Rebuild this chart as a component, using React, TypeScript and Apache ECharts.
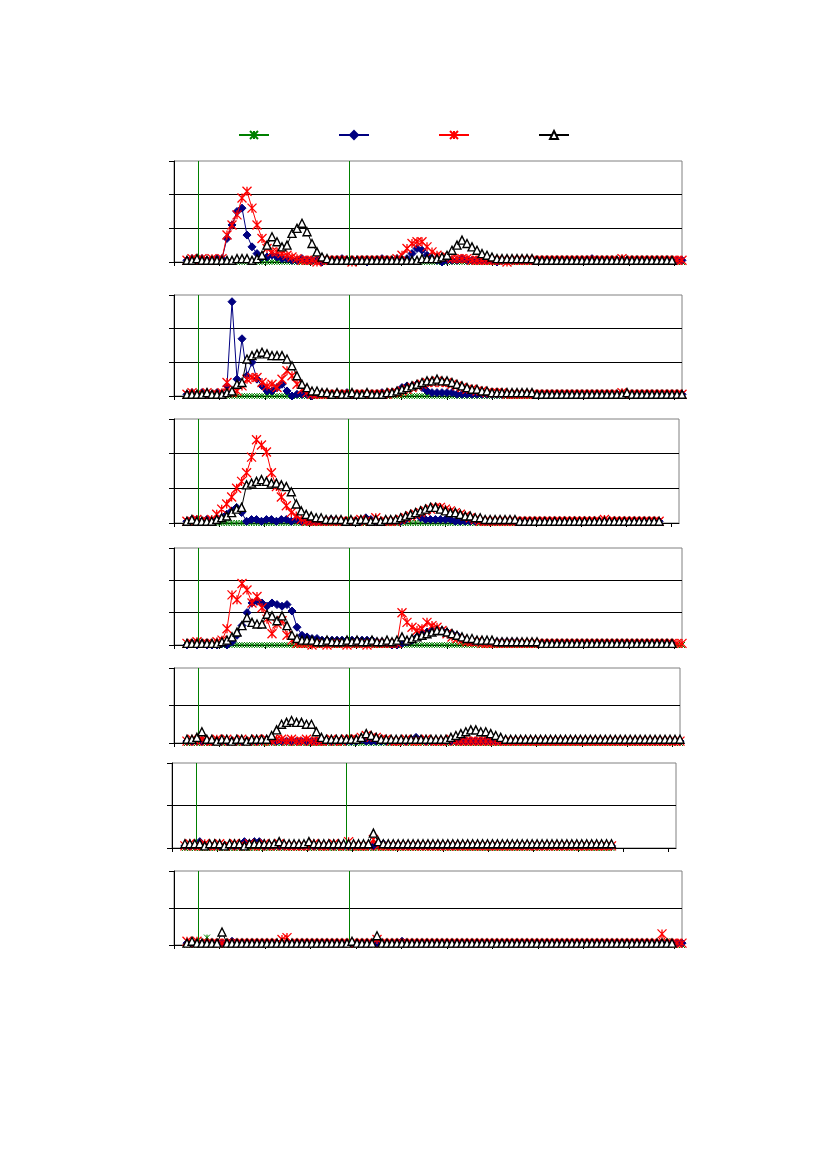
import React, { useEffect, useRef } from "react";
import * as echarts from "echarts";

// ---------- axis configuration ----------
const X_MIN = -2.6;
const X_MAX = 99;
const X_TICK_STEP = 9.1;
const X_TICK_COUNT = 12;
const EVENT_X = [2.3, 32.5];
const Y_MAX = [60, 60, 60, 60, 40, 40, 40];
const Y_STEP = 20;
const SERIES_NAMES = ["G", "N", "R", "B"];

// ---------- panel 1 ----------
const p1Green = [
  0,0,0,0,0,0,0,0,0,0, 0,0,0,0,0,0,0,0,0,0, 0,0,0,0,0,0,0,0,0,0, 0,0,0,0,0,0,0,0,0,0,
  0,0,0,0,0,0,0,0,0,0, 0,0,0,0,0,0,0,0,0,0, 0,0,0,0,0,0,0,0,0,0, 0,0,0,0,0,0,0,0,0,0,
  0,0,0,0,0,0,0,0,0,0, 0,0,0,0,0,0,0,0,0,0,
];
const p1Navy = [
  1,2,1,2,1,1,2,2,14,22, 30,32,16,9,5,3,3,4,3,2, 2,1,1,2,1,1,1,0,1,1, 1,2,1,1,1,1,0,1,1,2,
  1,1,2,1,2,5,8,7,4,2, 1,0,1,1,1,2,1,1,1,1, 1,1,0,1,1,1,1,1,1,1, 1,1,1,1,1,1,1,1,1,1,
  1,2,1,1,1,1,1,1,1,1, 1,1,1,1,1,1,1,1,1,1,
];
const p1Red = [
  1,2,1,2,1,2,1,2,16,22, 28,38,42,32,22,14,8,6,6,5, 4,3,2,1,1,1,0,1,1,1, 1,1,1,0,1,1,1,1,1,1,
  1,1,2,4,8,11,12,12,9,6, 4,3,3,2,2,2,2,1,1,1, 1,1,1,1,0,1,1,1,1,1, 1,1,1,1,1,1,1,1,1,1,
  1,1,1,1,1,1,1,2,1,1, 1,1,1,1,1,1,1,1,1,1,
];
const p1Black = [
  1,1,2,1,1,1,1,1,1,1, 2,2,2,1,2,4,10,15,12,9, 10,17,20,23,18,11,6,3,2,1, 1,1,1,1,1,1,1,1,1,1,
  1,1,1,1,1,1,1,2,2,2, 2,3,4,7,10,13,11,9,7,5, 4,3,2,2,2,2,2,2,2,2, 1,1,1,1,1,1,1,1,1,1,
  1,1,1,1,1,1,1,1,1,1, 1,1,1,1,1,1,1,1,
];

// ---------- panel 2 ----------
const p2Green = [
  0,0,0,0,0,0,0,0,0,0, 0,0,0,0,0,0,0,0,0,0, 0,0,0,0,0,0,0,0,0,0, 0,0,0,0,0,0,0,0,0,0,
  0,0,0,0,0,0,0,0,0,0, 0,0,0,0,0,0,0,0,0,0, 0,0,0,0,0,0,0,0,0,0, 0,0,0,0,0,0,0,0,0,0,
  0,0,0,0,0,0,0,0,0,0, 0,0,0,0,0,0,0,0,0,0,
];
const p2Navy = [
  1,2,1,2,1,1,2,1,6,56, 10,34,12,20,10,6,3,3,5,7, 3,0,1,1,1,0,1,1,1,1, 1,1,2,1,1,1,1,1,1,2,
  1,2,3,5,6,6,7,5,3,2, 2,2,2,2,1,1,1,1,1,1, 1,1,1,1,1,1,1,1,1,1, 1,1,1,1,1,1,1,1,1,1,
  1,1,1,1,1,1,1,1,1,1, 1,1,1,1,1,1,1,1,1,1,
];
const p2Red = [
  1,2,1,1,2,1,1,2,8,2, 3,6,10,11,11,8,6,7,5,10, 15,12,7,4,2,1,1,1,1,1, 1,1,1,1,1,1,1,1,1,1,
  1,2,2,3,4,5,6,7,8,8, 9,8,8,7,6,5,4,4,3,3, 2,2,2,2,1,1,1,1,1,1, 1,1,1,1,1,1,1,1,1,1,
  1,1,1,1,1,1,1,2,1,1, 1,1,1,1,1,1,1,1,1,1,
];
const p2Black = [
  1,1,1,1,2,1,1,1,2,3, 7,8,22,24,25,26,25,24,24,24, 22,18,12,7,5,3,3,2,2,1, 2,1,1,2,1,1,2,1,1,1,
  2,2,3,4,5,6,7,8,9,9, 10,9,9,8,7,6,5,4,4,3, 3,2,2,2,2,2,2,2,2,2, 1,1,1,1,1,1,1,1,1,1,
  1,1,1,1,1,1,1,1,2,1, 1,1,1,1,1,1,1,1,1,1,
];

// ---------- panel 3 ----------
const p3Green = [
  0,0,0,0,0,0,0,0,0,0, 0,0,0,0,0,0,0,0,0,0, 0,0,0,0,0,0,0,0,0,0, 0,0,0,0,0,0,0,0,0,0,
  0,0,0,0,0,0,0,0,0,0, 0,0,0,0,0,0,0,0,0,0, 0,0,0,0,0,0,0,0,0,0, 0,0,0,0,0,0,0,0,0,0,
  0,0,0,0,0,0,0,0,0,0, 0,0,0,0,0,0,
];
const p3Navy = [
  1,2,2,1,2,1,2,3,5,7, 9,6,1,2,2,1,2,2,1,2, 2,1,2,1,1,1,1,1,1,2, 1,1,1,1,1,1,3,2,1,1,
  1,1,1,1,2,4,5,3,2,2, 2,2,2,2,1,1,1,1,1,1, 1,1,1,1,1,1,1,1,1,1, 1,1,1,1,1,1,1,1,1,1,
  1,1,1,1,1,1,1,1,1,1, 1,1,1,1,1,1,
];
const p3Red = [
  1,1,2,1,1,2,5,8,11,15, 20,24,29,38,48,45,41,29,21,15, 10,6,4,2,1,1,1,1,1,1, 1,1,1,1,1,2,1,1,3,1,
  1,1,1,2,3,4,5,6,7,8, 9,9,8,7,6,5,4,3,2,1, 1,1,1,1,1,1,1,1,1,1, 1,1,1,1,1,1,1,1,1,1,
  1,1,1,1,2,1,1,1,1,1, 1,1,1,1,1,1,
];
const p3Black = [
  1,2,1,1,1,1,2,3,4,6, 8,9,22,23,24,25,24,23,23,22, 21,18,11,7,5,4,3,3,2,2, 2,2,1,2,1,2,2,1,2,1,
  2,2,2,3,4,5,6,7,8,9, 9,8,7,6,6,5,4,4,3,3, 2,2,2,2,2,2,2,1,1,1, 1,1,1,1,1,1,1,1,1,1,
  1,1,1,1,1,1,1,1,1,1, 1,1,1,1,1,1,
];

// ---------- panel 4 ----------
const p4Green = [
  0,0,0,0,0,0,0,0,0,0, 0,0,0,0,0,0,0,0,0,0, 0,0,0,0,0,0,0,0,0,0, 0,0,0,0,0,0,0,0,0,0,
  0,0,0,0,0,0,0,0,0,0, 0,0,0,0,0,0,0,0,0,0, 0,0,0,0,0,0,0,0,0,0, 0,0,0,0,0,0,0,0,0,0,
  0,0,0,0,0,0,0,0,0,0, 0,0,0,0,0,0,0,0,0,0,
];
const p4Navy = [
  0,1,0,1,0,0,0,1,0,2, 6,12,20,26,27,26,24,26,25,24, 25,21,11,6,5,4,4,3,3,3, 3,3,3,3,3,3,3,3,2,2,
  1,0,0,1,2,3,5,7,8,9, 9,9,8,7,6,4,3,2,2,2, 2,2,2,2,2,2,2,1,1,1, 1,1,1,1,1,1,1,1,1,1,
  1,1,1,1,1,1,1,1,1,1, 1,1,1,1,1,1,1,1,
];
const p4Red = [
  1,1,2,1,1,1,2,3,10,31, 28,38,34,26,30,23,16,7,13,15, 6,3,1,1,1,0,1,1,0,1, 1,1,0,1,1,1,0,1,1,1,
  1,1,1,20,14,11,9,10,14,12, 11,9,7,5,4,3,2,2,2,1, 1,1,1,1,1,1,1,1,1,1, 1,1,1,1,1,1,1,1,1,1,
  1,1,1,1,1,1,1,1,1,1, 1,1,1,1,1,1,1,1,1,1,
];
const p4Black = [
  1,1,1,1,1,1,1,2,3,5, 8,12,17,14,13,13,19,18,15,18, 12,6,4,3,3,3,2,2,3,2, 2,2,3,2,3,2,2,3,2,2,
  3,2,3,5,3,4,5,6,7,8, 9,9,8,7,6,5,4,4,3,3, 3,3,2,2,2,2,2,2,2,2, 2,1,1,1,1,1,1,1,1,1,
  1,1,1,1,1,1,1,1,1,1, 1,1,1,1,1,1,1,1,
];

// ---------- panel 5 ----------
const p5Green = [
  0,0,0,0,0,0,0,0,0,0, 0,0,0,0,0,0,0,0,0,0, 0,0,0,0,0,0,0,0,0,0, 0,0,0,0,0,0,0,0,0,0,
  0,0,0,0,0,0,0,0,0,0, 0,0,0,0,0,0,0,0,0,0, 0,0,0,0,0,0,0,0,0,0, 0,0,0,0,0,0,0,0,0,0,
  0,0,0,0,0,0,0,0,0,0, 0,0,0,0,0,0,0,0,0,0,
];
const p5Navy = [
  1,1,1,1,1,1,1,1,1,1, 1,1,1,1,1,1,2,1,1,1, 1,1,1,1,1,1,1,1,1,1, 1,1,1,1,1,2,1,1,1,1,
  1,1,1,1,1,2,3,2,1,1, 1,1,1,1,1,1,1,1,1,1, 1,1,1,1,1,1,1,1,1,1, 1,1,1,1,1,1,1,1,1,1,
  1,1,1,1,1,1,1,1,1,1, 1,1,1,1,1,1,1,1,1,1,
];
const p5Red = [
  1,2,1,2,1,1,2,1,2,1, 1,2,1,1,2,1,2,1,2,2, 1,2,1,1,2,1,1,1,1,2, 1,1,2,2,2,3,4,3,3,2,
  2,1,1,1,2,1,1,1,2,1, 1,1,1,2,1,1,1,1,1,1, 1,1,1,1,1,1,1,1,1,1, 1,1,1,1,1,1,1,1,1,1,
  1,1,1,1,1,1,1,1,1,1, 1,1,1,1,1,1,1,1,1,1,
];
const p5Black = [
  2,2,3,6,2,2,1,2,2,1, 2,2,1,2,2,2,2,4,7,10, 11,12,11,11,10,10,6,3,2,2, 2,2,2,2,2,3,5,4,3,2,
  2,2,2,2,2,2,2,2,2,2, 2,2,2,3,4,5,6,7,7,6, 6,5,4,3,2,2,2,2,2,2, 2,2,2,2,2,2,2,2,2,2,
  2,2,2,2,2,2,2,2,2,2, 2,2,2,2,2,2,2,2,2,2,
];

// ---------- panel 6 ----------
const p6Green = [
  0,0,0,0,0,0,0,0,0,0, 0,0,0,0,0,0,0,0,0,0, 0,0,0,0,0,0,0,0,0,0, 0,0,0,0,0,0,0,0,0,0,
  0,0,0,0,0,0,0,0,0,0, 0,0,0,0,0,0,0,0,0,0, 0,0,0,0,0,0,0,0,0,0, 0,0,0,0,0,0,0,0,0,0,
  0,0,0,0,0,0,0,
];
const p6Navy = [
  1,1,1,3,1,1,1,1,1,1, 1,1,3,2,3,3,1,1,1,1, 1,1,1,1,1,1,1,1,1,1, 1,1,1,1,1,1,1,1,1,2,
  2,1,1,1,1,1,1,1,1,1, 1,1,1,1,1,1,1,1,1,1, 1,1,1,1,1,1,1,1,1,1, 1,1,1,1,1,1,1,1,1,1,
  1,1,1,1,1,1,1,
];
const p6Red = [
  1,2,1,1,2,1,1,2,1,1, 2,1,1,2,1,1,2,1,1,2, 1,1,1,1,1,1,2,1,1,1, 2,1,1,3,1,1,1,1,4,1,
  1,1,1,1,1,1,1,1,1,1, 1,1,1,1,1,1,1,1,1,1, 1,1,1,1,1,1,1,1,1,1, 1,1,1,1,1,1,1,1,1,1,
  1,1,1,1,1,1,1,
];
const p6Black = [
  2,2,2,2,1,2,2,2,1,2, 2,2,1,2,2,2,2,2,2,3, 2,2,2,2,2,3,2,2,2,2, 2,2,2,2,2,2,2,2,7,3,
  2,2,2,2,2,2,2,2,2,2, 2,2,2,2,2,2,2,2,2,2, 2,2,2,2,2,2,2,2,2,2, 2,2,2,2,2,2,2,2,2,2,
  2,2,2,2,2,2,2,
];

// ---------- panel 7 ----------
const p7Green = [
  0,0,0,1,4,1,0,0,0,0, 0,0,0,0,0,0,0,0,0,0, 0,0,0,0,0,0,0,0,0,0, 0,0,0,0,0,0,0,0,0,0,
  0,0,0,0,0,0,0,0,0,0, 0,0,0,0,0,0,0,0,0,0, 0,0,0,0,0,0,0,0,0,0, 0,0,0,0,0,0,0,0,0,0,
  0,0,0,0,0,0,0,0,0,0, 0,0,0,0,0,1,2,1,0,0,
];
const p7Navy = [
  1,1,1,1,1,1,1,1,1,2, 1,1,1,1,1,1,1,1,1,1, 1,1,1,1,1,1,1,1,1,1, 1,1,1,1,1,1,1,1,1,1,
  1,1,1,2,1,1,1,1,1,1, 1,1,1,1,1,1,1,1,1,1, 1,1,1,1,1,1,1,1,1,1, 1,1,1,1,1,1,1,1,1,1,
  1,1,1,1,1,1,1,1,1,1, 1,1,1,1,1,1,1,1,1,1,
];
const p7Red = [
  2,1,2,1,1,1,1,1,1,1, 1,1,1,1,1,1,1,1,1,3, 4,1,1,1,1,1,1,1,1,1, 1,1,1,1,1,1,1,1,3,1,
  1,1,1,1,1,1,1,1,1,1, 1,1,1,1,1,1,1,1,1,1, 1,1,1,1,1,1,1,1,1,1, 1,1,1,1,1,1,1,1,1,1,
  1,1,1,1,1,1,1,1,1,1, 1,1,1,1,1,6,1,1,1,1,
];
const p7Black = [
  1,2,1,1,1,1,1,7,1,1, 1,1,1,1,1,1,1,1,1,1, 1,1,1,1,1,1,1,1,1,1, 1,1,1,2,1,1,1,1,5,1,
  1,1,1,1,1,1,1,1,1,1, 1,1,1,1,1,1,1,1,1,1, 1,1,1,1,1,1,1,1,1,1, 1,1,1,1,1,1,1,1,1,1,
  1,1,1,1,1,1,1,1,1,1, 1,1,1,1,1,1,1,1,
];

const PANELS = [
  [p1Green, p1Navy, p1Red, p1Black],
  [p2Green, p2Navy, p2Red, p2Black],
  [p3Green, p3Navy, p3Red, p3Black],
  [p4Green, p4Navy, p4Red, p4Black],
  [p5Green, p5Navy, p5Red, p5Black],
  [p6Green, p6Navy, p6Red, p6Black],
  [p7Green, p7Navy, p7Red, p7Black],
];

// ---------- layout & style ----------
const GRID_LAYOUT = [
  { left: 174, top: 161, width: 508, height: 101 },
  { left: 174, top: 295, width: 508, height: 101 },
  { left: 174, top: 419, width: 505, height: 104 },
  { left: 174, top: 548, width: 508, height: 97 },
  { left: 174, top: 668, width: 506, height: 75 },
  { left: 172, top: 763, width: 504, height: 85 },
  { left: 174, top: 871, width: 508, height: 74 },
];

const STAR = "path://M0,0L10,10M10,0L0,10M5,0L5,10";
const STYLES = [
  { symbol: STAR, size: 6, line: "#008000", fill: "#008000", bw: 1 },
  { symbol: "diamond", size: 8, line: "#000080", fill: "#000080", bw: 1 },
  { symbol: STAR, size: 9, line: "#ff0000", fill: "#ff0000", bw: 1.3 },
  { symbol: "triangle", size: 8, line: "#000000", fill: "#ffffff", bw: 1.4 },
];

function buildOption() {
  const tickValues: number[] = [];
  for (let k = 0; k < X_TICK_COUNT; k++) tickValues.push(+(X_MIN + k * X_TICK_STEP).toFixed(3));

  const grid = GRID_LAYOUT.map((g) => ({
    ...g,
    show: true,
    borderColor: "#808080",
    borderWidth: 1,
    backgroundColor: "transparent",
    containLabel: false,
  }));

  const xAxis = GRID_LAYOUT.map((_, gi) => ({
    type: "value",
    gridIndex: gi,
    min: X_MIN,
    max: X_MAX,
    axisLine: { show: true, lineStyle: { color: "#000", width: 1 } },
    axisTick: {
      show: true,
      inside: false,
      length: 4,
      customValues: tickValues,
      lineStyle: { color: "#000", width: 1 },
    },
    axisLabel: { show: false },
    splitLine: { show: false },
  }));

  const yAxis = GRID_LAYOUT.map((_, gi) => {
    const max = Y_MAX[gi];
    const n = max / Y_STEP;
    const colors: string[] = [];
    for (let k = 0; k <= n; k++) colors.push(k === n ? "#808080" : "#000");
    return {
      type: "value",
      gridIndex: gi,
      min: 0,
      max,
      interval: Y_STEP,
      axisLine: { show: true, onZero: false, lineStyle: { color: "#000", width: 1 } },
      axisTick: { show: true, inside: false, length: 5, lineStyle: { color: "#000", width: 1 } },
      axisLabel: { show: false },
      splitLine: { show: true, showMaxLine: false, lineStyle: { color: colors, width: 1 } },
    };
  });

  const series: any[] = [];
  PANELS.forEach((arrs, gi) => {
    arrs.forEach((values, si) => {
      const st = STYLES[si];
      const s: any = {
        type: "line",
        name: SERIES_NAMES[si],
        xAxisIndex: gi,
        yAxisIndex: gi,
        data: values.map((v, i) => [i, v]),
        symbol: st.symbol,
        symbolSize: st.size,
        showAllSymbol: true,
        color: st.line,
        lineStyle: { color: st.line, width: 1 },
        itemStyle: { color: st.fill, borderColor: st.line, borderWidth: st.bw },
        emphasis: { disabled: true },
        silent: true,
        z: 2 + si,
      };
      if (si === 0) {
        s.markLine = {
          silent: true,
          symbol: ["none", "none"],
          label: { show: false },
          lineStyle: { color: "#008000", width: 1, type: "solid" },
          emphasis: { disabled: true },
          data: EVENT_X.map((x) => ({ xAxis: x })),
        };
      }
      series.push(s);
    });
  });

  return {
    animation: false,
    backgroundColor: "#ffffff",
    legend: {
      data: SERIES_NAMES,
      top: 125,
      left: 233,
      itemWidth: 30,
      itemHeight: 10,
      itemGap: 68,
      selectedMode: false,
      formatter: () => "",
      textStyle: { fontSize: 10 },
    },
    grid,
    xAxis,
    yAxis,
    series,
  };
}

export default function App() {
  const ref = useRef<HTMLDivElement>(null);
  useEffect(() => {
    if (!ref.current) return;
    const chart = echarts.init(ref.current, null, { renderer: "svg" });
    chart.setOption(buildOption() as any);
    return () => chart.dispose();
  }, []);
  return (
    <div
      ref={ref}
      style={{ position: "absolute", left: 0, top: 0, width: 827, height: 1170, background: "#fff" }}
    />
  );
}
